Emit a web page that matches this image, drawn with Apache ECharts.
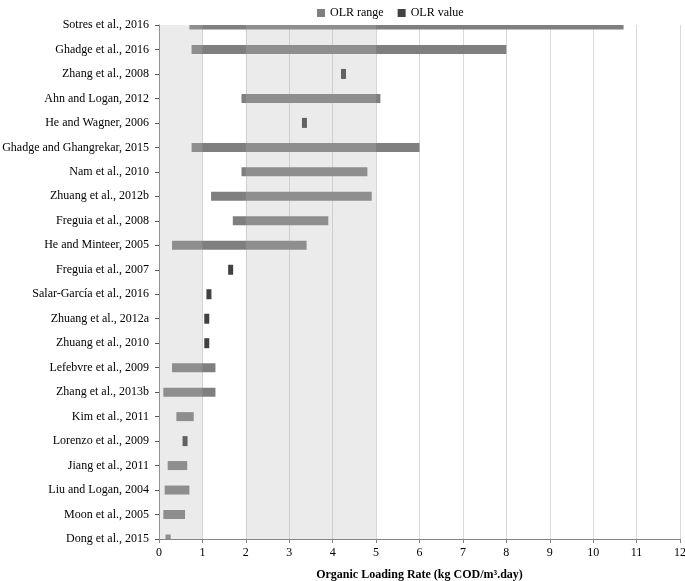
<!DOCTYPE html>
<html>
<head>
<meta charset="utf-8">
<script src="https://cdn.jsdelivr.net/npm/echarts@6/dist/echarts.min.js"></script>
<style>
  html, body { margin: 0; padding: 0; background: #fff; }
  #chart { width: 685px; height: 581px; }
</style>
</head>
<body>
<div id="chart"></div>
<script>
var studies = [
  'Sotres et al., 2016', 'Ghadge et al., 2016', 'Zhang et al., 2008', 'Ahn and Logan, 2012',
  'He and Wagner, 2006', 'Ghadge and Ghangrekar, 2015', 'Nam et al., 2010', 'Zhuang et al., 2012b',
  'Freguia et al., 2008', 'He and Minteer, 2005', 'Freguia et al., 2007', 'Salar-García et al., 2016',
  'Zhuang et al., 2012a', 'Zhuang et al., 2010', 'Lefebvre et al., 2009', 'Zhang et al., 2013b',
  'Kim et al., 2011', 'Lorenzo et al., 2009', 'Jiang et al., 2011', 'Liu and Logan, 2004',
  'Moon et al., 2005', 'Dong et al., 2015'
];
// OLR range (low / high), null where only a single value is reported
var rangeLow  = [0.7, 0.75, null, 1.9, null, 0.75, 1.9, 1.2, 1.7, 0.3, null, null, null, null, 0.3, 0.1, 0.4, null, 0.2, 0.13, 0.1, 0.15];
var rangeHigh = [10.7, 8, null, 5.1, null, 6, 4.8, 4.9, 3.9, 3.4, null, null, null, null, 1.3, 1.3, 0.8, null, 0.65, 0.7, 0.6, 0.27];
// OLR single value
var olrValue  = [null, null, 4.25, null, 3.35, null, null, null, null, null, 1.65, 1.15, 1.1, 1.1, null, null, null, 0.6, null, null, null, null];
// shaded reference bands on the x axis
var bands = [[0, 1], [2, 5]];
var xTicks = { min: 0, max: 12, interval: 1 };

var serif = "'Liberation Serif', 'Times New Roman', serif";

var chart = echarts.init(document.getElementById('chart'));

var rangeData = [];
rangeLow.forEach(function (lo, i) {
  if (lo != null) rangeData.push([lo, rangeHigh[i], i]);
});

// range bars drawn as rects, clipped to the plot so the end rows are cut in half
function renderRange(params, api) {
  var row = api.value(2);
  var a = api.coord([api.value(0), row]);
  var b = api.coord([api.value(1), row]);
  var h = 9;
  var cs = params.coordSys;
  var shape = echarts.graphic.clipRectByRect(
    { x: a[0], y: a[1] - h / 2, width: b[0] - a[0], height: h },
    { x: cs.x, y: cs.y, width: cs.width, height: cs.height }
  );
  return shape && { type: 'rect', shape: shape, style: api.style() };
}

var option = {
  animation: false,
  textStyle: { fontFamily: serif },
  legend: {
    data: ['OLR range', 'OLR value'],
    left: 312,
    top: 2,
    itemWidth: 8,
    itemHeight: 8,
    itemGap: 14,
    icon: 'rect',
    textStyle: { fontFamily: serif, fontSize: 12, color: '#000' }
  },
  grid: { left: 159, right: 5, top: 25, bottom: 42, containLabel: false, outerBoundsMode: 'none' },
  xAxis: {
    type: 'value',
    min: xTicks.min,
    max: xTicks.max,
    interval: xTicks.interval,
    name: 'Organic Loading Rate (kg COD/m³.day)',
    nameLocation: 'middle',
    nameGap: 30,
    nameTextStyle: { fontFamily: serif, fontSize: 12, fontWeight: 'bold', color: '#000' },
    axisLine: { show: true, lineStyle: { color: '#868686', width: 1 } },
    axisTick: { show: true, length: 4, lineStyle: { color: '#868686' } },
    axisLabel: { fontFamily: serif, fontSize: 12, color: '#000', margin: 8 },
    splitLine: { show: true, lineStyle: { color: '#d9d9d9', width: 1 } }
  },
  yAxis: {
    type: 'category',
    data: studies,
    inverse: true,
    boundaryGap: false,
    axisLine: { show: true, lineStyle: { color: '#868686', width: 1 } },
    axisTick: { show: true, length: 4, lineStyle: { color: '#555' } },
    axisLabel: { fontFamily: serif, fontSize: 12, color: '#000', margin: 10 },
    splitLine: { show: false }
  },
  series: [
    {
      name: 'OLR range',
      type: 'custom',
      renderItem: renderRange,
      encode: { x: [0, 1], y: 2 },
      itemStyle: { color: '#7f7f7f' },
      z: 2,
      data: rangeData
    },
    {
      name: 'OLR value',
      type: 'scatter',
      symbol: 'rect',
      symbolSize: [5, 10],
      itemStyle: { color: '#111' },
      z: 3,
      data: olrValue.map(function (v, i) { return v == null ? null : [v, i]; })
    },
    {
      name: 'bands',
      type: 'line',
      data: [],
      silent: true,
      markArea: {
        silent: true,
        z: 10,
        itemStyle: { color: 'rgba(184,184,184,0.28)' },
        data: bands.map(function (b) { return [{ xAxis: b[0] }, { xAxis: b[1] }]; })
      }
    }
  ]
};

chart.setOption(option);
window.addEventListener('resize', function () { chart.resize(); });
</script>
</body>
</html>
